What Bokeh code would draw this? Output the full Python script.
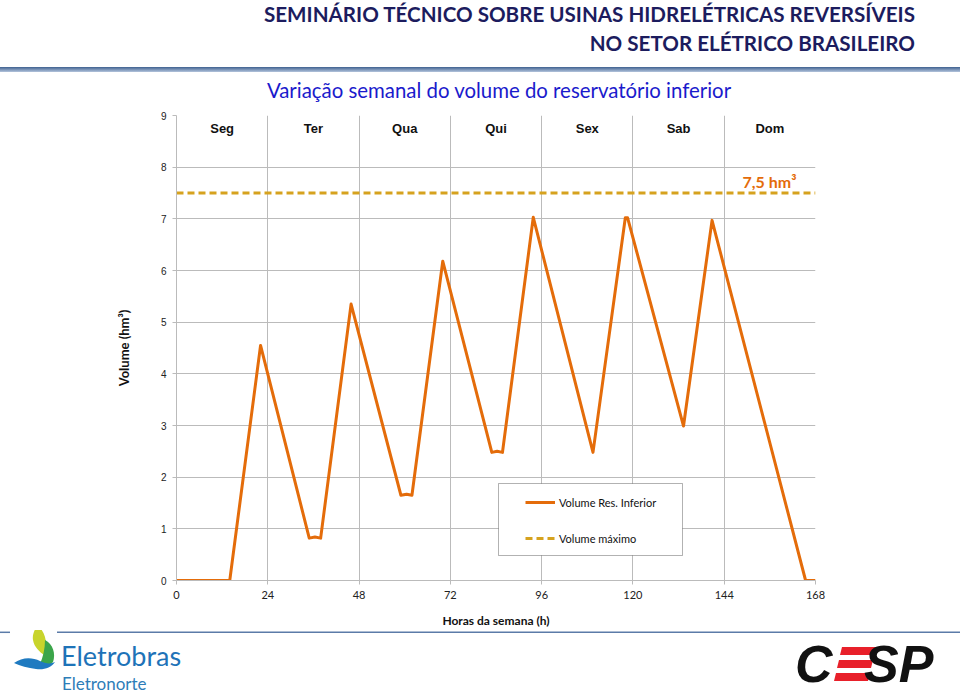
from bokeh.plotting import figure
from bokeh.models import Range1d, Label, Legend, LegendItem, BoxAnnotation, Div
from bokeh.layouts import column
from bokeh.embed import file_html
from bokeh.resources import INLINE
from bokeh.core.properties import value

# ---------------- data ----------------
hours = [0, 14.0, 22.1, 34.9, 36.4, 37.9, 45.9, 59.0, 60.5, 61.9, 70.0,
         82.9, 84.3, 85.7, 93.8, 109.5, 118.0, 118.6, 133.3, 140.8, 165.4, 168]
volume = [0, 0, 4.55, 0.82, 0.84, 0.82, 5.35, 1.65, 1.67, 1.65, 6.18,
          2.48, 2.50, 2.48, 7.03, 2.48, 7.02, 7.02, 2.99, 6.97, 0, 0]
max_hours = [0, 168]
max_volume = [7.5, 7.5]
days = ["Seg", "Ter", "Qua", "Qui", "Sex", "Sab", "Dom"]
day_centers = [12, 36, 60, 84, 108, 132, 156]
x_ticks = [0, 24, 48, 72, 96, 120, 144, 168]
y_ticks = [0, 1, 2, 3, 4, 5, 6, 7, 8, 9]

ORANGE = "#E46C0A"
GOLD = "#D6A21E"
GRID = "#BBBBBB"
NAVY = "#1C1C5E"
W = 960
HDR_H = 104
FTR_H = 62

# ---------------- header (HTML/SVG) ----------------
hstyle = f"font-family:Lato;font-weight:bold;font-size:20.6px;fill:{NAVY}"
header_svg = f"""
<svg xmlns="http://www.w3.org/2000/svg" width="{W}" height="{HDR_H}" style="display:block">
  <defs>
    <linearGradient id="hg" x1="0" y1="0" x2="0" y2="1">
      <stop offset="0" stop-color="#3F6190"/>
      <stop offset="1" stop-color="#B3C4DC"/>
    </linearGradient>
  </defs>
  <text x="915" y="22" text-anchor="end" style="{hstyle}">SEMINÁRIO TÉCNICO SOBRE USINAS HIDRELÉTRICAS REVERSÍVEIS</text>
  <text x="915" y="51" text-anchor="end" style="{hstyle}">NO SETOR ELÉTRICO BRASILEIRO</text>
  <rect x="0" y="67" width="{W}" height="5" fill="url(#hg)"/>
  <text x="499" y="98" text-anchor="middle"
        style="font-family:Lato;font-weight:normal;font-size:20.4px;fill:#1A1ACC">Variação semanal do volume do reservatório inferior</text>
</svg>
"""
hdr = Div(text=header_svg, width=W, height=HDR_H, margin=0)

# ---------------- main chart ----------------
FL, FR, FT, FB = 176, 815, 115, 580   # frame in page pixels
MAIN_H = 692 - HDR_H - FTR_H
p = figure(width=W, height=MAIN_H, x_range=Range1d(0, 168), y_range=Range1d(0, 9),
           output_backend="svg", toolbar_location=None,
           min_border_left=FL, min_border_right=W - FR,
           min_border_top=FT - HDR_H, min_border_bottom=(692 - FTR_H) - FB,
           outline_line_color=None)


def dx(px):
    return (px - FL) * 168.0 / (FR - FL)


def dy(py):
    return (FB - py) * 9.0 / (FB - FT)


p.xaxis.ticker = x_ticks
p.yaxis.ticker = y_ticks
p.xgrid.ticker = x_ticks
p.ygrid.ticker = y_ticks
p.grid.grid_line_color = GRID
p.grid.grid_line_width = 1
for ax in (p.xaxis, p.yaxis):
    ax.axis_line_color = GRID
    ax.major_tick_line_color = GRID
    ax.major_tick_out = 4
    ax.major_tick_in = 0
    ax.minor_tick_line_color = None
    ax.major_label_text_color = "#222222"
    ax.axis_label_text_font = "Lato"
    ax.axis_label_text_font_style = "bold"
    ax.axis_label_text_color = "#111111"
p.yaxis.major_label_text_font = "Liberation Sans"
p.yaxis.major_label_text_font_size = "10px"
p.yaxis.major_label_standoff = 6
p.yaxis.axis_label = "Volume (hm³)"
p.yaxis.axis_label_text_font_size = "13px"
p.yaxis.axis_label_standoff = 26
p.xaxis.major_label_text_font = "Lato"
p.xaxis.major_label_text_font_size = "11px"
p.xaxis.major_label_standoff = 6
p.xaxis.axis_label = "Horas da semana (h)"
p.xaxis.axis_label_text_font_size = "12px"
p.xaxis.axis_label_standoff = 11

r_max = p.line(max_hours, max_volume, line_color=GOLD, line_width=3, line_dash="7 4")
r_vol = p.line(hours, volume, line_color=ORANGE, line_width=3, line_join="round")

p.text(x=day_centers, y=[8.75] * len(days), text=days, text_align="center",
       text_baseline="middle", text_font=value("Liberation Sans"),
       text_font_style="bold", text_font_size="13px", text_color="#111111")

p.add_layout(Label(x=dx(769), y=dy(181), text="7,5 hm³", text_align="center",
                   text_baseline="middle", text_color=ORANGE, text_font="Lato",
                   text_font_style="bold", text_font_size="16px"))

box = BoxAnnotation(left=dx(498), right=dx(682), top=dy(483), bottom=dy(555),
                    fill_color="white", fill_alpha=1.0, line_color="black", line_width=1)
p.add_layout(box)

legend = Legend(items=[LegendItem(label="Volume Res. Inferior", renderers=[r_vol]),
                       LegendItem(label="Volume máximo", renderers=[r_max])],
                location=(349, 32), padding=0, margin=0, spacing=16,
                label_height=20, glyph_height=20, glyph_width=30, label_standoff=4,
                border_line_color=None, background_fill_alpha=0,
                label_text_font="Lato", label_text_font_size="11px",
                label_text_color="#111111")
p.add_layout(legend)

# ---------------- footer (HTML/SVG) ----------------
footer_svg = f"""
<svg xmlns="http://www.w3.org/2000/svg" width="{W}" height="{FTR_H}" style="display:block">
  <line x1="0" y1="2.3" x2="10" y2="2.3" stroke="#5B7BA8" stroke-width="1.5"/>
  <line x1="57" y1="2.3" x2="960" y2="2.3" stroke="#5B7BA8" stroke-width="1.5"/>
  <path d="M37 -5 C46 2 48 14 44 25 C40 22 34 17 33 10 C32 4 35 0 37 -5 Z" fill="#C8D42C"/>
  <path d="M45 10 C53 14 56 24 53 32 C50 36 45 37 40 34 C43 27 45 19 45 10 Z" fill="#3BA54A"/>
  <path d="M14 33 C22 27 32 27 40 31 C46 34 51 34 55 32 C51 38 44 40 36 39 C28 38 20 36 14 33 Z" fill="#1F7AC0"/>
  <text x="61" y="36" style="font-family:Lato;font-size:27px;fill:#1E73B8">Eletrobras</text>
  <text x="62" y="59.5" style="font-family:Lato;font-size:17px;fill:#2E7DB8">Eletronorte</text>
  <text x="795" y="52" style="font-family:'Liberation Sans';font-weight:bold;font-style:italic;font-size:52px;fill:#111111">C</text>
  <polygon points="842,17 876,17 874,25 840,25" fill="#E8202A"/>
  <polygon points="839,30 873,30 871,38 837,38" fill="#E8202A"/>
  <polygon points="836,43 870,43 868,51 834,51" fill="#E8202A"/>
  <text x="864" y="52" style="font-family:'Liberation Sans';font-weight:bold;font-style:italic;font-size:52px;fill:#111111">SP</text>
</svg>
"""
ft = Div(text=footer_svg, width=W, height=FTR_H, margin=0)

layout = column(hdr, p, ft, spacing=0)
open("out.html", "w").write(file_html(layout, INLINE))
